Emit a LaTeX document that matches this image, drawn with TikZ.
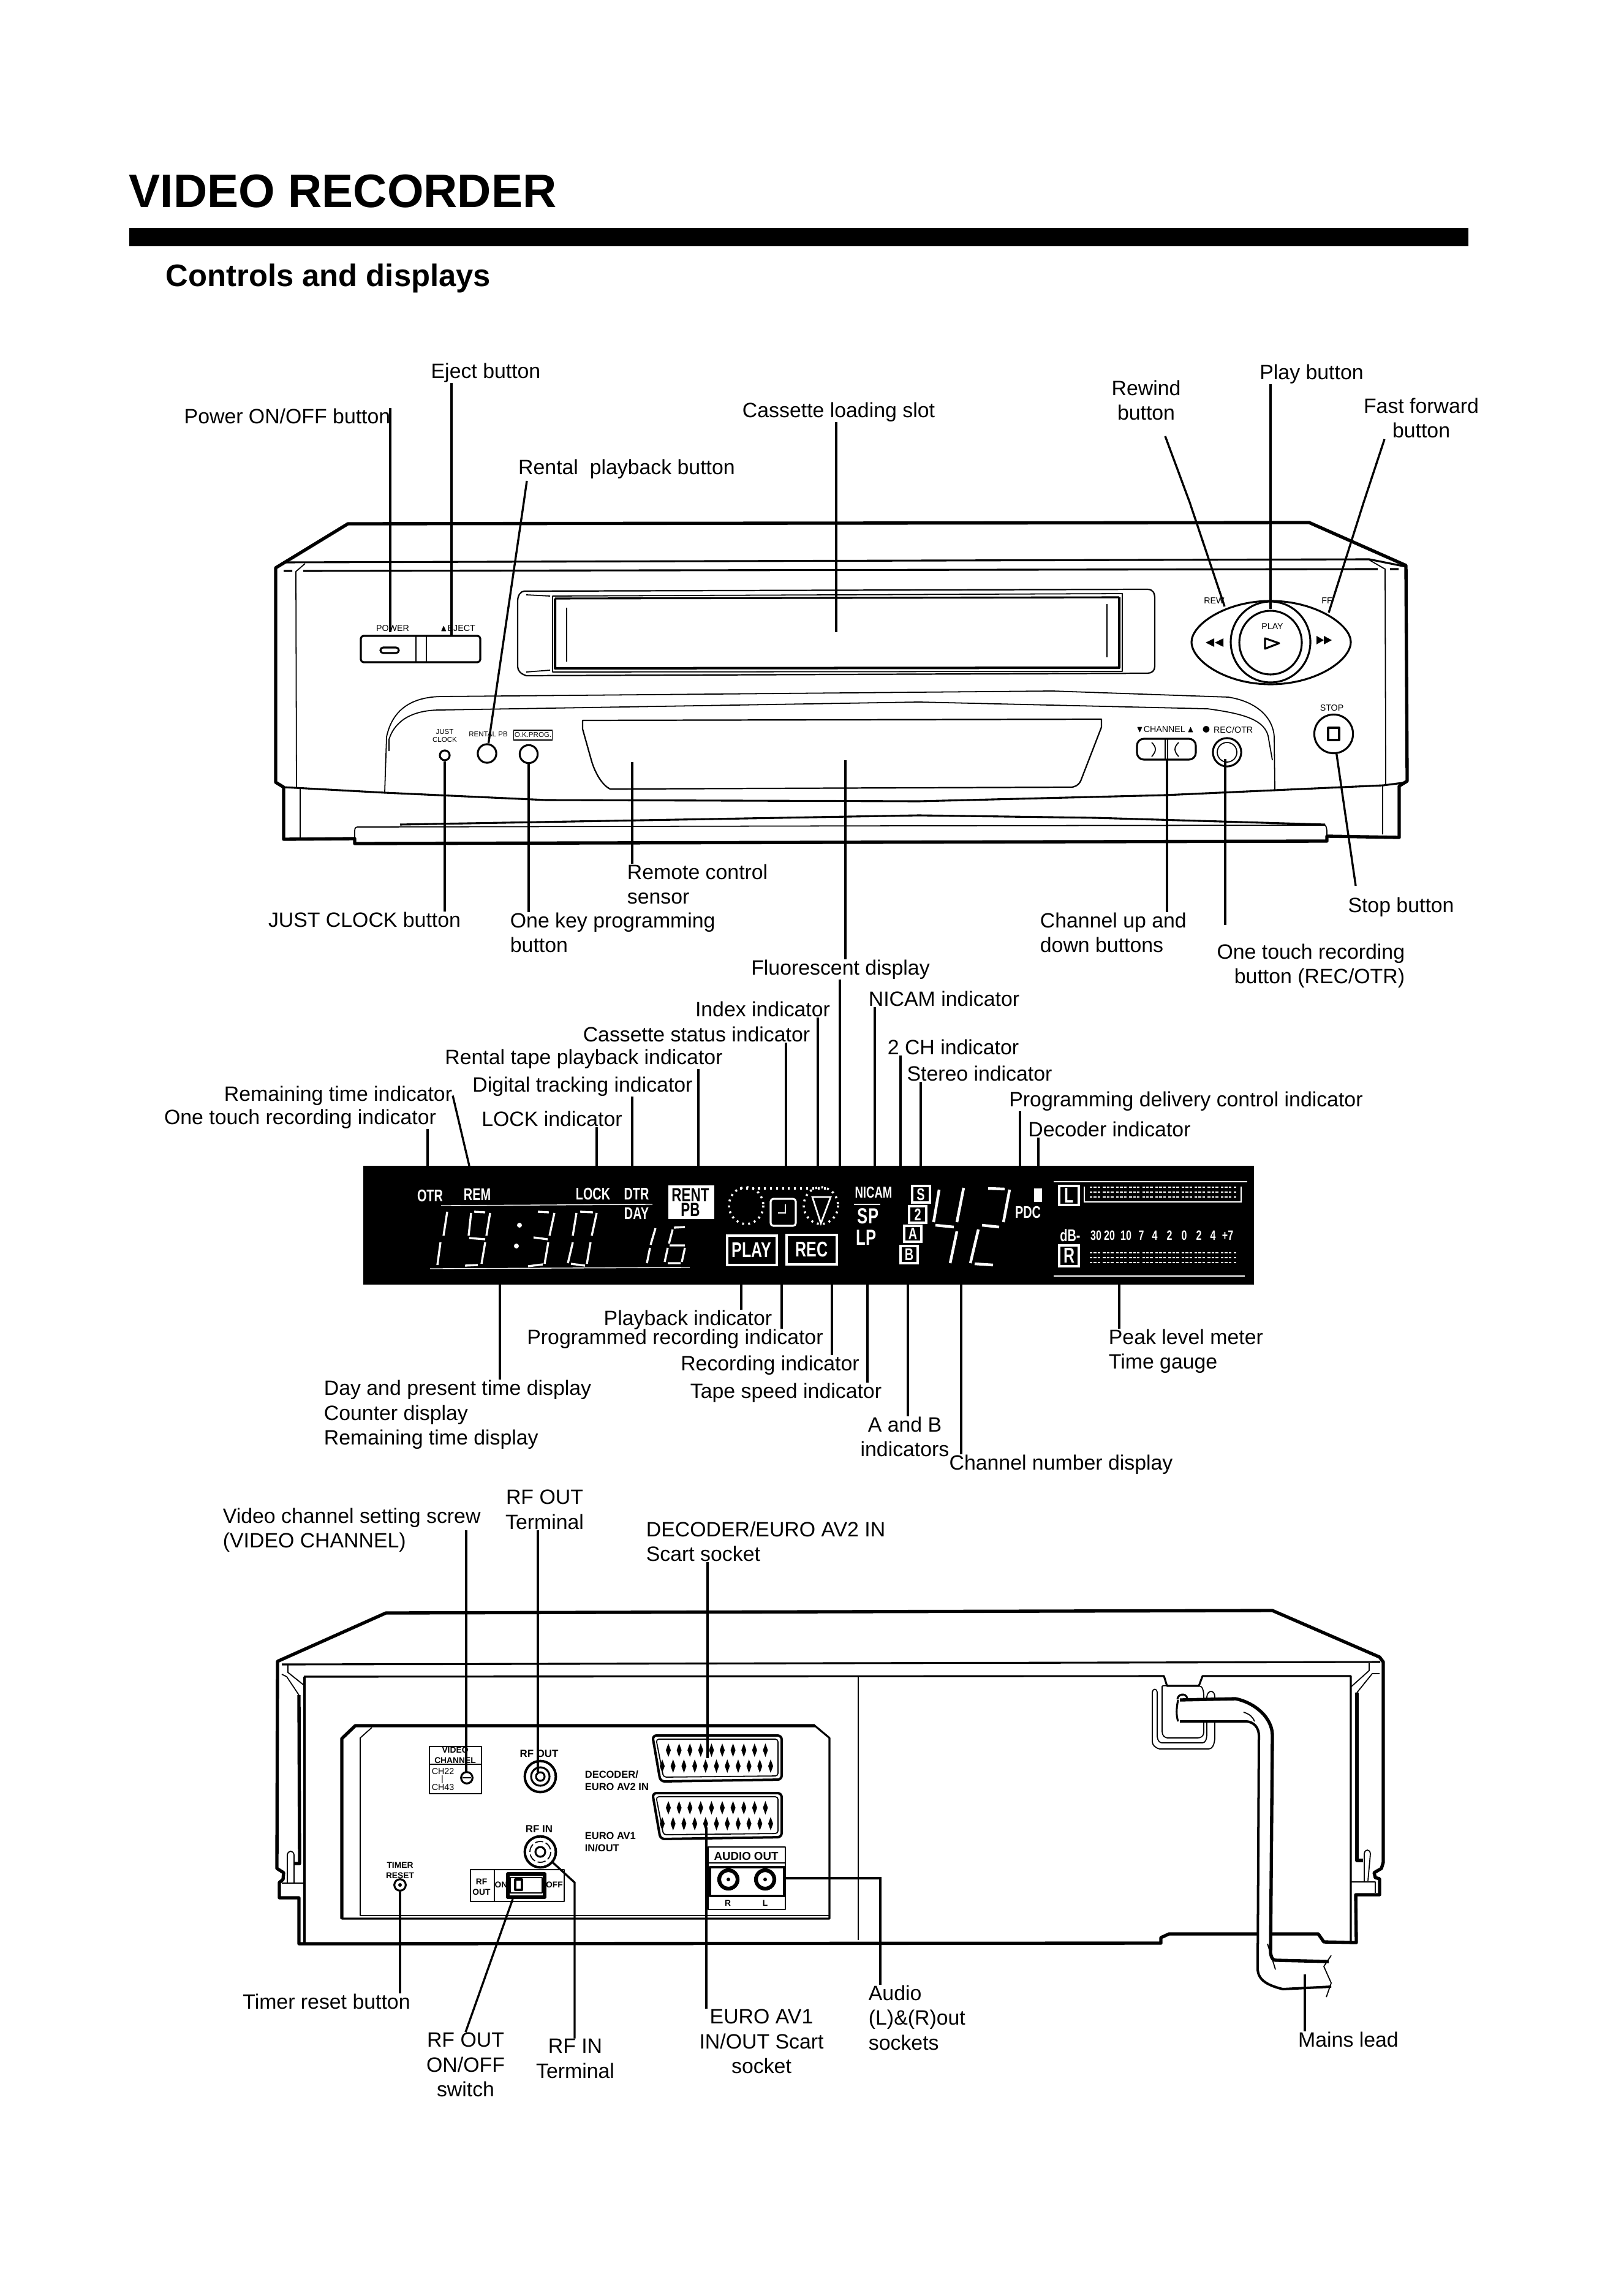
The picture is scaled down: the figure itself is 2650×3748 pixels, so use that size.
\documentclass[tikz,border=0pt]{standalone}
\usepackage{amssymb}
\usepackage{fontspec}
\setmainfont{Liberation Sans}
\newfontfamily\litface[FakeStretch=0.72]{Liberation Sans}
\usepackage{tikz}
\usetikzlibrary{shapes,arrows}
\newcommand{\tinyprint}{\fontsize{3.2}{3.6}\selectfont}
\tikzstyle{callout} = [inner sep=0pt, align=center, yshift=-.8pt, font=\fontsize{7.6}{9.1}\selectfont]
\tikzstyle{calloutl} = [callout, anchor=west, align=left]
\tikzstyle{calloutr} = [callout, anchor=east, align=right]
\tikzstyle{leader} = [draw, line width=.75pt]
\tikzstyle{heavy} = [draw, line width=1.2pt, line join=round]
\tikzstyle{medium} = [draw, line width=.7pt, line join=round]
\tikzstyle{fine} = [draw, line width=.4pt, line join=round]
\tikzstyle{knob} = [circle, draw, line width=.7pt, inner sep=0pt]
\tikzstyle{tag} = [inner sep=0pt, align=center, font=\tinyprint]
\tikzstyle{tagsmall} = [tag, font=\fontsize{2.6}{2.9}\selectfont]
\tikzstyle{tagb} = [inner sep=0pt, align=center, font=\fontsize{3.1}{3.8}\selectfont\bfseries]
\tikzstyle{tagc} = [inner sep=0pt, anchor=west, align=left, font=\fontsize{3.7}{4.5}\selectfont\bfseries]
\tikzstyle{lit} = [inner sep=0pt, align=center, text=white, font=\fontsize{6.2}{7}\selectfont\litface\bfseries]
\tikzstyle{litbig} = [lit, font=\fontsize{7.8}{8}\selectfont\litface\bfseries]
\tikzstyle{litbox} = [draw=white, line width=.7pt]
\tikzstyle{seg} = [draw=white, line width=.75pt]
\tikzstyle{meter} = [draw=white, line width=.65pt, dash pattern=on 1pt off .45pt on 1pt off .45pt on 1pt off .9pt]
\tikzstyle{ringdots} = [draw=white, line width=.8pt, dash pattern=on .7pt off 1.5pt]

\begin{document}
\begin{tikzpicture}[x=0.22464pt, y=-0.22464pt]
    \useasboundingbox (0,0) rectangle (2650,3748);
    % Heading
    \node [inner sep=0pt, anchor=west, font=\fontsize{17.2}{20}\selectfont\bfseries] (title) at (210,312) {VIDEO RECORDER};
    \fill (211,372) rectangle (2397,402);
    \node [inner sep=0pt, anchor=west, font=\fontsize{11.4}{13}\selectfont\bfseries] (subtitle) at (270,454) {Controls and displays};

    % Front of the recorder
    \path [heavy] (568,855) -- (2137,853) -- (2295,923) -- (2297,1275) -- (2284,1283) -- (2284,1367) -- (2166,1365)
        -- (2166,1373) -- (579,1377) -- (579,1369) -- (463,1370) -- (463,1285) -- (450,1277) -- (450,927) -- cycle;
    \path [medium] (463,918) -- (2235,913) -- (2295,925);
    \path [medium] (463,932) -- (477,932) (495,932) -- (2249,929) (2269,929) -- (2283,929);
    \path [fine] (498,920) -- (483,933) -- (484,1285) (490,1287) -- (490,1367);
    \path [fine] (2235,914) -- (2261,929) -- (2262,1281) (2257,1283) -- (2257,1362);
    \path [medium] (463,1285) -- (628,1294) -- (891,1306) -- (1500,1308) -- (1902,1298) -- (2258,1282) -- (2297,1277);
    % Tray strip
    \path [fine] (579,1369) -- (579,1356) .. controls (579,1350) and (582,1350) .. (586,1350) -- (1500,1348) -- (2163,1347)
        .. controls (2166,1350) and (2166,1355) .. (2166,1365);
    \path [medium] (653,1346) -- (1500,1331) -- (1787,1335) -- (2163,1346);
    % Cassette slot
    \path [fine, line width=.5pt] (856,965) -- (1873,962) .. controls (1882,962) and (1885,968) .. (1885,977) -- (1885,1088)
        .. controls (1885,1095) and (1880,1099) .. (1873,1099) -- (859,1103) .. controls (850,1100) and (845,1095) .. (845,1088)
        -- (845,981) .. controls (845,972) and (850,965) .. (856,965);
    \path [fine] (902,973) -- (1832,969) -- (1832,1096) -- (902,1097) -- cycle;
    \path [medium] (906,977) -- (1827,975);
    \path [medium, line width=.9pt] (1827,975) -- (1827,1090) -- (906,1091) -- (906,977);
    \path [fine] (925,992) -- (925,1080) (1807,986) -- (1807,1073);
    \path [fine] (859,971) -- (898,973) (859,1097) -- (898,1094);
    % Power and eject
    \path [medium, rounded corners=1pt] (589,1038) rectangle (784,1081);
    \path [fine] (679,1038) -- (679,1081) (696,1038) -- (696,1081);
    \path [medium, rounded corners=1pt] (621,1057) rectangle (651,1066);
    \node [tag] (tagpower) at (641,1026) {POWER};
    \node [tag] (tageject) at (747,1026) {$\blacktriangle$EJECT};
    % Control panel
    \path [fine] (628,1293) -- (631,1203) .. controls (640,1160) and (670,1137) .. (723,1137) -- (1718,1128)
        -- (2005,1138) .. controls (2050,1145) and (2078,1170) .. (2080,1203) -- (2081,1291);
    \path [fine] (635,1226) -- (635,1207) .. controls (645,1175) and (675,1159) .. (719,1159) -- (1500,1146)
        -- (1971,1157) .. controls (2030,1165) and (2068,1175) .. (2071,1207) -- (2077,1241);
    \path [fine, line width=.5pt] (951,1176) -- (1798,1174) -- (1798,1187) -- (1764,1275) .. controls (1760,1282) and (1755,1285) .. (1747,1285)
        -- (996,1288) .. controls (985,1283) and (972,1265) .. (965,1240) -- (951,1190) -- cycle;
    \node [knob, minimum size=3.6pt] (justbtn) at (726,1233) {};
    \node [knob, minimum size=6.8pt] (rentalbtn) at (795,1230) {};
    \node [knob, minimum size=6.6pt] (okbtn) at (863,1231) {};
    \node [tagsmall] (tagjust) at (726,1201) {JUST\\CLOCK};
    \node [tagsmall] (tagrental) at (797,1199) {RENTAL PB};
    \node [tagsmall, draw, line width=.35pt, inner xsep=.3pt, inner ysep=.9pt] (tagok) at (870,1200) {O.K.PROG.};
    \path [medium, rounded corners=2.5pt] (1856,1206) rectangle (1952,1240);
    \path [fine] (1902,1206) -- (1902,1240) (1906,1206) -- (1906,1240);
    \path [fine] (1880,1212) .. controls (1888,1220) and (1888,1226) .. (1880,1235);
    \path [fine] (1924,1212) .. controls (1916,1220) and (1916,1226) .. (1924,1235);
    \node [tag] (tagchan) at (1902,1191) {$\blacktriangledown$CHANNEL\,$\blacktriangle$};
    \node [tag] (tagrec) at (2003,1191) {$\bullet$ REC/OTR};
    \node [knob, minimum size=10.4pt] (recbtn) at (2003,1228) {};
    \path [fine] (2003,1228) circle [radius=16];
    \node [knob, minimum size=14.2pt] (stopbtn) at (2177,1198) {};
    \path [medium] (2168,1188) rectangle (2186,1208);
    \node [tag] (tagstop) at (2174,1156) {STOP};
    % Transport keys
    \path [medium] (1945,1048) .. controls (1945,1020) and (2000,981) .. (2074,981) .. controls (2148,981) and (2205,1020) .. (2205,1048)
        .. controls (2205,1078) and (2148,1117) .. (2074,1117) .. controls (2000,1117) and (1945,1078) .. (1945,1048);
    \path [medium] (2074,1048) ellipse [x radius=65, y radius=66];
    \path [medium] (2074,1049) ellipse [x radius=51, y radius=52];
    \path [medium] (2065,1042) -- (2088,1050) -- (2065,1059) -- cycle;
    \fill (1968,1049) -- (1982,1042) -- (1982,1056) -- cycle (1983,1049) -- (1997,1042) -- (1997,1056) -- cycle;
    \fill (2174,1045) -- (2161,1038) -- (2161,1052) -- cycle (2161,1045) -- (2149,1038) -- (2149,1052) -- cycle;
    \node [tag] (tagrew) at (1982,981) {REW};
    \node [tag] (tagff) at (2166,981) {FF};
    \node [tag] (tagplay) at (2077,1023) {PLAY};

    % Front labels
    \node [callout] (eject) at (793,605) {Eject button};
    \node [callout] (power) at (469,676) {Power ON/OFF button};
    \node [callout] (slot) at (1369,669) {Cassette loading slot};
    \node [callout] (rental) at (1023,762) {Rental\ \ playback button};
    \node [callout] (rewind) at (1871,650) {Rewind\\button};
    \node [callout] (play) at (2141,607) {Play button};
    \node [callout] (fastfwd) at (2320,679) {Fast forward\\button};
    \node [calloutl] (remote) at (1023,1440) {Remote control\\sensor};
    \node [callout] (justclock) at (595,1498) {JUST CLOCK button};
    \node [calloutl] (onekey) at (832,1519) {One key programming\\button};
    \node [calloutl] (channel) at (1697,1519) {Channel up and\\down buttons};
    \node [callout] (stop) at (2287,1477) {Stop button};
    \node [calloutr] (onetouch) at (2294,1573) {One touch recording\\button (REC/OTR)};
    \node [callout] (fluor) at (1372,1579) {Fluorescent display};
    % Front leaders
    \coordinate (powertip) at (637,1032);
    \coordinate (ejecttip) at (737,1038);
    \coordinate (slottip) at (1365,1032);
    \coordinate (rentalbend) at (855,820);
    \coordinate (rewindtop) at (1902,712);
    \coordinate (rewindbend) at (1942,820);
    \coordinate (rewindtip) at (1999,990);
    \coordinate (playtip) at (2074,994);
    \coordinate (fasttop) at (2260,717);
    \coordinate (fastbend) at (2226,820);
    \coordinate (fasttip) at (2169,1000);
    \coordinate (rentaltop) at (860,785);
    \coordinate (remotetip) at (1032,1244);
    \coordinate (fluortip) at (1380,1241);
    \coordinate (channeltip) at (1905,1240);
    \coordinate (rectip) at (2000,1239);
    \coordinate (rectop) at (2000,1510);
    \coordinate (stoptop) at (2213,1446);
    \path [leader] (power.north -| powertip) -- (powertip);
    \path [leader] (eject.south -| ejecttip) -- (ejecttip);
    \path [leader] (slot.south -| slottip) -- (slottip);
    \path [leader] (rentaltop) -- (rentalbend) -- (rentalbtn);
    \path [leader] (rewindtop) -- (rewindbend) -- (rewindtip);
    \path [leader] (play.south -| playtip) -- (playtip);
    \path [leader] (fasttop) -- (fastbend) -- (fasttip);
    \path [leader] (justbtn) -- (justclock.north -| justbtn);
    \path [leader] (okbtn) -- (onekey.north -| okbtn);
    \path [leader] (remotetip) -- (remote.north -| remotetip);
    \path [leader] (fluortip) -- (fluor.north -| fluortip);
    \path [leader] (channeltip) -- (channel.north -| channeltip);
    \path [leader] (rectip) -- (rectop);
    \path [leader] (stopbtn) -- (stoptop);

    % Display panel
    \fill (593,1903) rectangle (2047,2097);
    \node [lit] (otr) at (702,1952) {OTR};
    \node [lit] (rem) at (779,1950) {REM};
    \node [lit] (lock) at (968,1949) {LOCK};
    \node [lit] (dtr) at (1039,1949) {DTR};
    \node [lit] (day) at (1039,1981) {DAY};
    \path [draw=white, line width=.3pt] (720,1968) -- (1065,1966) (702,2071) -- (1126,2069);
    \fill [white] (1091,1935) rectangle (1166,1990);
    \node [litbig, text=black, font=\fontsize{7}{5.3}\selectfont\litface\bfseries] (rent) at (1127,1963) {RENT\\PB};
    \path [ringdots] (1218,1968) ellipse [x radius=28, y radius=30];
    \path [ringdots] (1340,1968) ellipse [x radius=28, y radius=30];
    \path [ringdots] (1208,1940) -- (1350,1940);
    \path [litbox, rounded corners=1pt] (1258,1957) rectangle (1299,2001);
    \path [draw=white, line width=.6pt] (1282,1966) -- (1282,1980) -- (1270,1980);
    \path [draw=white, line width=.6pt] (1326,1954) -- (1356,1954) -- (1340,1997) -- cycle;
    \path [litbox] (1187,2017) rectangle (1268,2065);
    \path [litbox] (1284,2016) rectangle (1366,2064);
    \node [litbig] (playlamp) at (1227,2041) {PLAY};
    \node [litbig] (reclamp) at (1325,2040) {REC};
    % Clock digits
    \path [seg] (730,1978) -- (724,2017) (719,2028) -- (714,2065);
    \path [seg] (774,1978) -- (792,1979) (769,1980) -- (765,2017) (800,1980) -- (794,2017) (766,2021) -- (792,2023) (792,2028) -- (786,2063) (759,2066) -- (780,2065);
    \fill [white] (848,2000) circle [radius=4] (843,2034) circle [radius=4];
    \path [seg] (878,1978) -- (896,1979) (905,1980) -- (897,2017) (871,2020) -- (894,2023) (895,2028) -- (889,2063) (862,2067) -- (886,2064);
    \path [seg] (947,1978) -- (968,1979) (941,1980) -- (935,2017) (974,1980) -- (966,2017) (935,2028) -- (927,2062) (964,2028) -- (958,2063) (932,2063) -- (955,2066);
    \path [seg] (1070,2005) -- (1062,2032) (1061,2037) -- (1056,2062);
    \path [seg] (1100,2004) -- (1118,2003) (1098,2007) -- (1092,2030) (1093,2033) -- (1118,2033) (1090,2037) -- (1085,2060) (1118,2037) -- (1113,2060) (1090,2062) -- (1111,2062);
    % Channel digits
    \path [seg, line width=1pt] (1533,1942) -- (1524,1995) (1573,1939) -- (1562,1995) (1527,2000) -- (1557,2003) (1562,2010) -- (1551,2062);
    \path [seg, line width=1pt] (1613,1940) -- (1640,1941) (1648,1942) -- (1638,1995) (1603,2000) -- (1631,2003) (1597,2007) -- (1584,2062) (1591,2063) -- (1621,2065);
    \node [lit, font=\fontsize{5.8}{7}\selectfont\litface\bfseries] (nicam) at (1426,1947) {NICAM};
    \path [draw=white, line width=.3pt] (1394,1966) -- (1437,1966);
    \node [litbig, font=\fontsize{8}{9}\selectfont\litface\bfseries] (sp) at (1417,1985) {SP};
    \node [litbig, font=\fontsize{8}{9}\selectfont\litface\bfseries] (lp) at (1414,2020) {LP};
    \path [litbox] (1489,1936) rectangle (1518,1963);
    \path [litbox] (1484,1969) rectangle (1512,1996);
    \path [litbox] (1476,2001) rectangle (1504,2027);
    \path [litbox] (1470,2034) rectangle (1498,2062);
    \node [lit] (modes) at (1503,1950) {S};
    \node [lit] (mode2) at (1498,1983) {2};
    \node [lit] (modea) at (1490,2014) {A};
    \node [lit] (modeb) at (1484,2048) {B};
    \fill [white] (1688,1940) rectangle (1701,1962);
    \node [lit] (pdc) at (1678,1979) {PDC};
    % Level meter
    \path [litbox] (1729,1936) rectangle (1761,1967);
    \path [litbox] (1729,2033) rectangle (1761,2067);
    \node [litbig] (chl) at (1745,1952) {L};
    \node [litbig] (chr) at (1745,2050) {R};
    \path [draw=white, line width=.5pt] (1770,1937) -- (1770,1962) -- (2026,1962) -- (2026,1937);
    \path [draw=white, line width=.3pt] (1720,1929) -- (2036,1929) (1720,2083) -- (2032,2083);
    \foreach \y in {1938,1946,1954,2045,2053,2061}
        \path [meter] (1779,\y) -- (2018,\y);
    \node [lit] (dbunit) at (1747,2017) {dB-};
    \foreach \x/\n in {1789/30,1811/20,1838/10,1863/7,1885/4,1909/2,1933/0,1957/2,1980/4,2004/+7}
        \node [lit, font=\fontsize{5}{6}\selectfont\litface\bfseries] (db\x) at (\x,2017) {\n};

    % Display labels
    \node [callout] (index) at (1245,1644) {Index indicator};
    \node [callout] (nicamlbl) at (1541,1627) {NICAM indicator};
    \node [callout] (status) at (1137,1685) {Cassette status indicator};
    \node [callout] (twoch) at (1556,1706) {2 CH indicator};
    \node [callout] (rentaltape) at (953,1725) {Rental tape playback indicator};
    \node [callout] (stereo) at (1599,1749) {Stereo indicator};
    \node [callout] (digital) at (951,1770) {Digital tracking indicator};
    \node [callout] (pdclbl) at (1936,1794) {Programming delivery control indicator};
    \node [callout] (remain) at (552,1785) {Remaining time indicator};
    \node [callout] (decoder) at (1811,1840) {Decoder indicator};
    \node [callout] (locklbl) at (901,1823) {LOCK indicator};
    \node [callout] (otrlbl) at (490,1823) {One touch recording indicator};
    \node [callout] (playback) at (1123,2151) {Playback indicator};
    \node [callout] (programmed) at (1102,2182) {Programmed recording indicator};
    \node [callout] (recording) at (1257,2225) {Recording indicator};
    \node [callout] (tapespeed) at (1283,2270) {Tape speed indicator};
    \node [calloutl] (peak) at (1809,2202) {Peak level meter\\Time gauge};
    \node [calloutl] (clock) at (528,2306) {Day and present time display\\Counter display\\Remaining time display};
    \node [callout] (abind) at (1477,2342) {A and B\\indicators};
    \node [callout] (chnum) at (1732,2387) {Channel number display};
    % Display leaders
    \coordinate (otrtip) at (698,1903);
    \coordinate (remtip) at (766,1903);
    \coordinate (locktip) at (974,1903);
    \coordinate (dtrtip) at (1032,1903);
    \coordinate (renttip) at (1140,1903);
    \coordinate (statustip) at (1283,1903);
    \coordinate (indextip) at (1335,1903);
    \coordinate (fluordown) at (1371,1903);
    \coordinate (nicamtip) at (1428,1903);
    \coordinate (twotip) at (1470,1903);
    \coordinate (stereotip) at (1503,1903);
    \coordinate (pdctip) at (1665,1903);
    \coordinate (dectip) at (1695,1903);
    \coordinate (clocktip) at (816,2097);
    \coordinate (playtop) at (1210,2097);
    \coordinate (progtop) at (1276,2097);
    \coordinate (rectopb) at (1358,2097);
    \coordinate (speedtop) at (1416,2097);
    \coordinate (abtop) at (1482,2097);
    \coordinate (chtop) at (1569,2097);
    \coordinate (peaktop) at (1827,2097);
    \path [leader] (otrlbl.south -| otrtip) -- (otrtip);
    \path [leader] (remain.east) -- (remtip);
    \path [leader] (locklbl.south -| locktip) -- (locktip);
    \path [leader] (digital.south -| dtrtip) -- (dtrtip);
    \path [leader] (rentaltape.south -| renttip) -- (renttip);
    \path [leader] (status.south -| statustip) -- (statustip);
    \path [leader] (index.south -| indextip) -- (indextip);
    \path [leader] (fluor.south -| fluordown) -- (fluordown);
    \path [leader] (nicamlbl.south -| nicamtip) -- (nicamtip);
    \path [leader] (twoch.south -| twotip) -- (twotip);
    \path [leader] (stereo.south -| stereotip) -- (stereotip);
    \path [leader] (pdclbl.south -| pdctip) -- (pdctip);
    \path [leader] (decoder.south -| dectip) -- (dectip);
    \path [leader] (clocktip) -- (clock.north -| clocktip);
    \path [leader] (playtop) -- (playback.north -| playtop);
    \path [leader] (progtop) -- (programmed.north -| progtop);
    \path [leader] (rectopb) -- (recording.north -| rectopb);
    \path [leader] (speedtop) -- (tapespeed.north -| speedtop);
    \path [leader] (abtop) -- (abind.north -| abtop);
    \path [leader] (chtop) -- (chnum.north -| chtop);
    \path [leader] (peaktop) -- (peak.north -| peaktop);

    % Rear of the recorder
    \path [heavy] (630,2633) -- (453,2712) -- (452,3050) -- (463,3057) -- (462,3068) -- (456,3073) -- (456,3098) -- (488,3098)
        -- (488,3173) -- (1895,3172) -- (1895,3163) -- (1908,3157) -- (2152,3157) -- (2161,3170) -- (2214,3171) -- (2213,3093)
        -- (2252,3093) -- (2252,3067) -- (2245,3065) -- (2243,3057) -- (2255,3050) -- (2258,3040) -- (2258,2713) -- (2252,2705)
        -- (2077,2629) -- cycle;
    \path [medium] (460,2717) -- (2253,2713);
    \path [medium] (496,2737) -- (1900,2736) -- (1905,2752) -- (1957,2752) -- (1963,2736) -- (2205,2736) -- (2205,3171);
    \path [medium] (497,2737) -- (497,3173);
    \path [fine] (470,2718) -- (470,2730) -- (495,2750);
    \path [fine] (2235,2715) -- (2235,2727) -- (2206,2753);
    \path [fine] (460,2733) -- (468,2737) -- (488,2767);
    \path [heavy] (488,2767) -- (489,3042) -- (480,3042);
    \path [fine] (469,3073) -- (469,3028) .. controls (470,3020) and (479,3020) .. (480,3028) -- (480,3073);
    \path [fine] (460,3074) -- (495,3074);
    \path [fine] (2252,2732) -- (2240,2732) -- (2215,2763);
    \path [heavy] (2215,2763) -- (2215,3037) -- (2225,3037);
    \path [fine] (2227,3072) -- (2227,3026) .. controls (2228,3018) and (2236,3018) .. (2237,3026) -- (2233,3070);
    \path [fine] (2204,3072) -- (2245,3072) -- (2245,3090);
    \path [fine] (1401,2737) -- (1401,3167);
    % Connector recess
    \path [medium] (558,3132) -- (558,2838) -- (580,2817) -- (1330,2817) -- (1354,2837) -- (1354,3132) -- cycle;
    \path [heavy] (558,3132) -- (558,2838) -- (580,2817) -- (1330,2817);
    \path [fine] (607,2820) -- (588,2837) -- (588,3127) -- (1354,3127);
    % Video channel screw
    \path [fine, line width=.6pt] (701,2851) rectangle (786,2928);
    \path [fine] (701,2880) -- (786,2880);
    \node [tagb] (tagvideo) at (743,2865) {VIDEO\\CHANNEL};
    \node [tag] (tagch1) at (723,2892) {CH22};
    \node [tag] (tagbar) at (722,2905) {|};
    \node [tag] (tagch2) at (723,2918) {CH43};
    \node [knob, minimum size=4.2pt] (screw) at (762,2902) {};
    \path [fine] (755,2902) -- (769,2902);
    % RF jacks
    \node [knob, minimum size=11.4pt, line width=.9pt] (rfout) at (882,2900) {};
    \path [medium] (882,2900) circle [radius=15] (882,2900) circle [radius=7];
    \node [tagb, font=\fontsize{3.8}{4.5}\selectfont\bfseries] (tagrfout) at (880,2863) {RF OUT};
    \node [tagb, font=\fontsize{3.8}{4.5}\selectfont\bfseries] (tagrfin) at (880,2986) {RF IN};
    \node [knob, minimum size=11.4pt, line width=.9pt] (rfin) at (882,3023) {};
    \path [medium] (882,3023) circle [radius=8];
    \path [fine, dash pattern=on 3pt off 1pt] (882,3023) circle [radius=17];
    \path [fine, line width=.6pt] (768,3052) rectangle (921,3104);
    \path [fine] (807,3052) -- (807,3104);
    \node [tagb] (tagrfsw) at (786,3080) {RF\\OUT};
    \node [tagb] (tagon) at (818,3077) {ON};
    \node [tagb] (tagoff) at (905,3077) {OFF};
    \path [heavy] (829,3059) rectangle (889,3097);
    \path [fine] (833,3065) rectangle (885,3090);
    \path [medium] (841,3068) rectangle (852,3085);
    \node [tagc] (tagdecoder) at (954,2907) {DECODER/\\EURO AV2 IN};
    \node [tagc] (tageuro) at (954,3007) {EURO AV1\\IN/OUT};
    % Timer reset
    \node [tagb] (tagtimer) at (653,3053) {TIMER\\RESET};
    \node [knob, minimum size=4.2pt] (timerjack) at (653,3077) {};
    \fill (653,3077) circle [radius=3];
    % Scart sockets
    \foreach \d in {0,94} {
        \begin{scope}[shift={(0,\d)}]
            \path [medium, rounded corners=1.5pt, line width=.9pt] (1065,2833) -- (1276,2833) -- (1276,2905) -- (1078,2908) -- cycle;
            \path [fine, rounded corners=1pt] (1071,2839) -- (1270,2839) -- (1270,2899) -- (1083,2901) -- cycle;
            \foreach \x in {1091,1108.6,...,1250}
                \fill (\x,2846) -- (\x+4,2857) -- (\x,2868) -- (\x-4,2857) -- cycle;
            \foreach \x in {1081,1098.7,...,1259}
                \fill (\x,2872) -- (\x+4,2883) -- (\x,2894) -- (\x-4,2883) -- cycle;
        \end{scope}
    }
    % Audio sockets
    \path [fine, line width=.6pt] (1156,3015) rectangle (1282,3117);
    \path [fine, line width=.6pt] (1156,3041) -- (1282,3041);
    \path [medium, line width=.9pt] (1159,3048) rectangle (1280,3095);
    \node [tagb, font=\fontsize{4.2}{5}\selectfont\bfseries] (tagaudio) at (1218,3030) {AUDIO OUT};
    \node [tagb] (tagr) at (1188,3107) {R};
    \node [tagb] (tagl) at (1249,3107) {L};
    \foreach \x in {1189,1249} {
        \path [draw, line width=1.4pt] (\x,3068) circle [radius=15];
        \fill (\x,3068) circle [radius=3];
    }
    % Mains lead
    \path [fine] (1897,2770) -- (1897,2753) .. controls (1897,2752) and (1900,2751) .. (1905,2752) -- (1957,2752)
        .. controls (1963,2752) and (1965,2760) .. (1965,2770) -- (1965,2828) .. controls (1965,2834) and (1960,2837) .. (1955,2837)
        -- (1907,2837) .. controls (1900,2837) and (1897,2832) .. (1897,2826) -- cycle;
    \path [fine] (1889,2762) -- (1889,2835) .. controls (1890,2842) and (1893,2845) .. (1897,2845) -- (1963,2845)
        .. controls (1968,2845) and (1970,2838) .. (1970,2830) -- (1970,2770) .. controls (1971,2758) and (1983,2758) .. (1983,2770) -- (1983,2838)
        .. controls (1982,2850) and (1978,2855) .. (1973,2855) -- (1893,2855) .. controls (1885,2853) and (1881,2848) .. (1881,2843)
        -- (1881,2762) .. controls (1882,2756) and (1888,2756) .. (1889,2762);
    \path [fill=white, draw=none] (1923,2775) -- (2017,2773) .. controls (2050,2780) and (2077,2805) .. (2077,2833) -- (2074,3188)
        .. controls (2076,3200) and (2080,3200) .. (2086,3200) -- (2169,3202) -- (2173,3243) -- (2094,3247)
        .. controls (2065,3240) and (2053,3230) .. (2053,3213) -- (2055,2833) .. controls (2055,2822) and (2050,2810) .. (2033,2810) -- (1923,2810) -- cycle;
    \path [heavy] (1926,2775) -- (2017,2773) .. controls (2050,2780) and (2077,2805) .. (2077,2833) -- (2074,3188)
        .. controls (2076,3200) and (2080,3200) .. (2086,3200) -- (2169,3202);
    \path [heavy, line width=.9pt] (1926,2810) -- (2033,2810) .. controls (2048,2810) and (2055,2822) .. (2055,2833) -- (2053,3213)
        .. controls (2053,3230) and (2065,3240) .. (2094,3247) -- (2173,3243);
    \path [medium] (1923,2775) .. controls (1920,2790) and (1920,2800) .. (1923,2810);
    \path [medium] (1922,2774) .. controls (1922,2766) and (1935,2762) .. (1938,2772);
    \path [fine] (2030,2795) .. controls (2040,2798) and (2045,2803) .. (2048,2810);
    \path [fine] (2069,3173) -- (2082,3215);
    \path [fine] (2173,3192) -- (2161,3210) -- (2173,3237) -- (2165,3260);

    % Rear labels
    \node [calloutl] (vchannel) at (363,2494) {Video channel setting screw\\(VIDEO CHANNEL)};
    \node [callout] (rfoutlbl) at (889,2461) {RF OUT\\Terminal};
    \node [calloutl] (decoderin) at (1054,2513) {DECODER/EURO AV2 IN\\Scart socket};
    \node [callout] (timer) at (533,3264) {Timer reset button};
    \node [callout] (rfswitch) at (760,3367) {RF OUT\\ON/OFF\\switch};
    \node [callout] (rfinlbl) at (939,3357) {RF IN\\Terminal};
    \node [callout] (euroav) at (1243,3329) {EURO AV1\\IN/OUT Scart\\socket};
    \node [calloutl] (audio) at (1417,3290) {Audio\\(L)\&(R)out\\sockets};
    \node [callout] (mains) at (2201,3326) {Mains lead};
    % Rear leaders
    \coordinate (vchantip) at (761,2892);
    \coordinate (rfouttip) at (878,2893);
    \coordinate (decodertip) at (1155,2870);
    \coordinate (swtip) at (837,3100);
    \coordinate (rfintip) at (902,3040);
    \coordinate (rfinbend) at (938,3073);
    \coordinate (eurotip) at (1153,2983);
    \coordinate (audiotip) at (1282,3066);
    \coordinate (audiobend) at (1437,3066);
    \coordinate (mainstip) at (2130,3223);
    \path [leader] (vchannel.center -| vchantip) -- (vchantip);
    \path [leader, line width=1.1pt] (rfoutlbl.south -| rfouttip) -- (rfouttip);
    \path [leader] (decoderin.south -| decodertip) -- (decodertip);
    \path [leader] (timerjack) -- (timer.north -| timerjack);
    \path [leader] (swtip) -- (rfswitch.north);
    \path [leader] (rfintip) -- (rfinbend) -- (rfinlbl.north -| rfinbend);
    \path [leader] (eurotip) -- (euroav.north -| eurotip);
    \path [leader] (audiotip) -- (audiobend) -- (audio.north -| audiobend);
    \path [leader] (mainstip) -- (mains.north -| mainstip);
\end{tikzpicture}
\end{document}
